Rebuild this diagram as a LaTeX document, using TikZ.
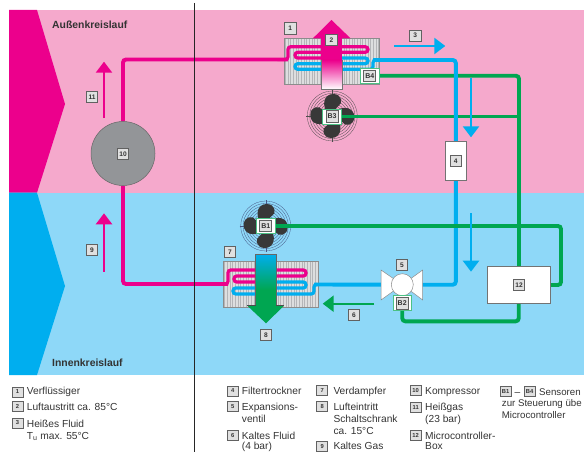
\documentclass[tikz,border=0pt]{standalone}
\usepackage{fontspec}
\setmainfont{Liberation Sans}
\usetikzlibrary{arrows.meta}
\definecolor{pinkbg}{HTML}{F5A9CC}
\definecolor{bluebg}{HTML}{8ED8F8}
\definecolor{mag}{HTML}{EC008C}
\definecolor{cyn}{HTML}{00AEEF}
\definecolor{grn}{HTML}{00A651}
\definecolor{compgray}{HTML}{939598}
\definecolor{fin}{HTML}{B4B5B8}
\definecolor{txt}{HTML}{333333}
\pgfdeclarelayer{bg}
\pgfdeclarelayer{pipes}
\pgfsetlayers{bg,pipes,main}
\tikzset{
  tag/.style={draw=black!62,fill=black!12,line width=.8pt,minimum width=11.5pt,minimum height=11.5pt,inner sep=0pt,
    font=\fontsize{6.6}{6.6}\selectfont\bfseries,text=black!80},
  sens/.style={draw=grn!70,fill=white,line width=.6pt,minimum width=18.5pt,minimum height=15pt,inner sep=0pt},
  senstag/.style={tag,minimum width=12pt,minimum height=11.5pt,font=\fontsize{7}{7}\selectfont\bfseries},
  ltag/.style={tag,minimum height=10pt,minimum width=11pt,font=\fontsize{5.8}{5.8}\selectfont\bfseries},
  leg/.style={anchor=base west,inner sep=0pt,font=\fontsize{10.2}{10.2}\selectfont,text=txt},
  legs/.style={leg,font=\fontsize{9.7}{9.7}\selectfont},
  head/.style={anchor=base west,inner sep=0pt,font=\fontsize{10.4}{10.4}\selectfont\bfseries,text=txt},
  wpipe/.style={line width=3.9pt,rounded corners=3pt},
  coil/.style={line width=3.2pt,rounded corners=2.7pt},
  flow/.style={line width=2.4pt,-{Triangle[width=16pt,length=11pt]}},
  box/.style={draw=black!55,fill=white,line width=.7pt,inner sep=0pt},
}
\newcommand{\fanat}[3]{% x y colour
  \begin{scope}[shift={(#1,#2)}]
    \foreach \r in {25,22.6,20.2,17.8,15.4,13,10.6,8.2,5.8,3.4}
      \draw[#3,line width=.3pt] (0,0) circle[radius=\r];
    \draw[#3,line width=.3pt] (-26,0) -- (26,0) (0,-26) -- (0,26);
    \foreach \a in {0,90,180,270}
      \fill[black!78,rotate=\a] (-4,-2) .. controls (-11,-10) and (-9,-22) .. (1,-22)
        .. controls (10,-22) and (11,-12) .. (6,-10) .. controls (3,-8) and (3,-4) .. (2,-2) -- cycle;
  \end{scope}}
\newcommand{\finblock}[4]{% x1 y1 x2 y2
  \fill[fin] (#1,#2) rectangle (#3,#4);
  \pgfmathsetmacro{\nxt}{#1+1.6}
  \foreach \x in {#1,\nxt,...,#3}
    \draw[white!55!fin,line width=.6pt] (\x,#2) -- (\x,#4);
  \draw[black!45,line width=.5pt] (#1,#2) rectangle (#3,#4);}
\begin{document}
\begin{tikzpicture}[x=1pt,y=-1pt]
\useasboundingbox (0,0) rectangle (584,452);
\begin{pgfonlayer}{bg}
  \fill[pinkbg] (9,10) rectangle (584,192.7);
  \fill[bluebg] (9,192.7) rectangle (584,375);
  \fill[mag] (9,10) -- (37,10) -- (65,104) -- (37,192.7) -- (9,192.7) -- cycle;
  \fill[cyn] (9,192.7) -- (37,192.7) -- (65,286) -- (37,375) -- (9,375) -- cycle;
  \finblock{284.5}{38.5}{379}{84.3}
  \finblock{223.3}{261}{318.3}{307.3}
  \fanat{332.3}{116}{black!70}
  \fanat{265.7}{226}{black!65!cyan!60!blue}
\end{pgfonlayer}

\draw[black!85,line width=.8pt] (194.5,3) -- (194.5,452);

% equipment nodes
\node[circle,draw=black!60,fill=compgray,line width=.5pt,minimum size=64pt,inner sep=0pt] (comp) at (123,153.5) {};
\node[box,minimum width=21.7pt,minimum height=38.7pt] (filter) at (455.8,160.6) {};
\node[box,minimum width=62.7pt,minimum height=36.6pt] (ctrl) at (518.7,285) {};
\fill[white,draw=black!45,line width=.5pt] (381,270) -- (402.3,284.7) -- (422.7,270) -- (422.7,300) -- (402.3,284.7) -- (381,300) -- cycle;
\node[circle,draw=black!45,fill=white,line width=.5pt,minimum size=22pt,inner sep=0pt] (valve) at (402.3,284.7) {};

% sensors
\node[sens] (b4) at (369.8,75.8) {};
\node[sens] (b3) at (332,116.5) {};
\node[sens] (b1) at (265.8,226) {};
\node[sens] (b2) at (402.2,303.2) {};
\node[senstag] at (b4) {B4};
\node[senstag] at (b3) {B3};
\node[senstag] at (b1) {B1};
\node[senstag] at (b2) {B2};

% pipes
\coordinate (gv) at (519,75.8);
\coordinate (gr) at (561,226);
\coordinate (cin) at (288,59.5);
\coordinate (ein) at (228,284);
\coordinate (cout) at (373,60);
\coordinate (eout) at (314,284.5);
\begin{pgfonlayer}{pipes}
  \draw[grn,wpipe] (b4.east) -- (gv) -- (gv |- ctrl.north);
  \draw[grn,wpipe] (b3.east) -- (gv |- b3.east);
  \draw[mag,wpipe] (comp.north) -- (123,59.5) -- (cin);
  \draw[mag,coil] (286,59.5) -- (288,59.5) -- (288,46.7) -- (368,46.7) -- (368,52.3) -- (295,52.3) -- (295,58) -- (330,58);
  \draw[cyn,coil] (330,58) -- (368,58) -- (368,63.7) -- (295,63.7) -- (295,69.3) -- (373,69.3) -- (373,60) -- (376,60);
  \draw[cyn,wpipe] (cout) -- (455.8,60) -- (filter.north);
  \draw[mag,wpipe] (comp.south) -- (123,284) -- (ein);
  \draw[mag,coil] (226,284) -- (228,284) -- (228,270) -- (306,270) -- (306,276) -- (234,276) -- (234,282) -- (266,282);
  \draw[cyn,coil] (266,282) -- (306,282) -- (306,288) -- (233,288) -- (233,294) -- (314,294) -- (314,284.5) -- (317,284.5);
  \draw[cyn,wpipe] (eout) -- (valve.west);
  \draw[cyn,wpipe] (filter.south) -- (455.8,284.7) -- (valve.east);
  \draw[grn,wpipe] (b1.east) -- (gr) -- (gr |- ctrl.east) -- (ctrl.east);
  \draw[grn,wpipe] (ctrl.south) -- (518.7,321.3) -- (402.3,321.3) -- (b2.south);
\end{pgfonlayer}

% air arrows
\fill[mag] (331.5,20) -- (350.7,38.5) -- (312.7,38.5) -- cycle;
\fill[mag] (321.3,38) rectangle (342,60);
\shade[top color=mag,bottom color=white] (321.3,60) rectangle (342,89.3);
\draw[black!55,line width=.5pt] (321.3,60) -- (321.3,89.3) -- (342,89.3) -- (342,60);
\shade[top color=cyn,bottom color=grn] (255.7,254) rectangle (276.3,290);
\fill[grn] (255.7,290) rectangle (276.3,306);
\fill[grn] (247.3,305.7) -- (284,305.7) -- (266,323.3) -- cycle;
\draw[black!60,line width=.5pt] (255.7,305.7) -- (255.7,254) -- (276.3,254) -- (276.3,305.7);
\draw[black!70,line width=.5pt] (247.3,305.7) -- (255.7,305.7) (276.3,305.7) -- (284,305.7);

% flow arrows
\coordinate (f3a) at (394,46); \coordinate (f3b) at (445.3,46);
\coordinate (f3c) at (471,78); \coordinate (f3d) at (471,137.3);
\coordinate (f3e) at (471,213.3); \coordinate (f3f) at (471,271.7);
\coordinate (f6a) at (374,303.7); \coordinate (f6b) at (322.7,303.7);
\coordinate (f11a) at (104,118); \coordinate (f11b) at (104,61.7);
\coordinate (f9a) at (104,271.7); \coordinate (f9b) at (104,213.3);
\draw[flow,cyn] (f3a) -- (f3b);
\draw[flow,cyn] (f3c) -- (f3d);
\draw[flow,cyn] (f3e) -- (f3f);
\draw[flow,grn] (f6a) -- (f6b);
\draw[flow,mag] (f11a) -- (f11b);
\draw[flow,mag] (f9a) -- (f9b);

% tags in the diagram
\node[tag] (t1) at (290.3,28.3) {1};
\node[tag] (t2) at (331.5,40) {2};
\node[tag] (t3) at (415.3,35.7) {3};
\node[tag] (t4) at (455.8,161) {4};
\node[tag] (t5) at (402,265) {5};
\node[tag] (t6) at (354,315) {6};
\node[tag] (t7) at (230,252) {7};
\node[tag] (t8) at (266,335) {8};
\node[tag] (t9) at (92,250) {9};
\node[tag] (t10) at (123,154) {10};
\node[tag] (t11) at (92,97) {11};
\node[tag] (t12) at (519,284.7) {12};

% headings
\node[head] (hout) at (52,28.5) {Außenkreislauf};
\node[head] (hin) at (52,366.5) {Innenkreislauf};

% legend
\node[ltag] (l1) at (17.5,392) {1};
\node[leg] (x1) at (26.7,394.5) {Verflüssiger};
\node[ltag] (l2) at (17.5,406.7) {2};
\node[leg] (x2) at (26.7,410) {Luftaustritt ca. 85°C};
\node[ltag] (l3) at (17.5,423) {3};
\node[leg] (x3a) at (26.7,427) {Heißes Fluid};
\node[leg] (x3b) at (26.7,439) {T\textsubscript{u} max. 55°C};

\node[ltag] (l4) at (232.7,391) {4};
\node[leg] (x4) at (241.7,394.5) {Filtertrockner};
\node[ltag] (l5) at (232.7,406.7) {5};
\node[leg] (x5a) at (241.7,410) {Expansions-};
\node[leg] (x5b) at (241.7,422.3) {ventil};
\node[ltag] (l6) at (232.7,435.7) {6};
\node[leg] (x6a) at (241.7,439) {Kaltes Fluid};
\node[leg] (x6b) at (241.7,449.5) {(4 bar)};

\node[ltag] (l7) at (322.3,390.7) {7};
\node[leg] (x7) at (333.3,394) {Verdampfer};
\node[ltag] (l8) at (322.3,406.7) {8};
\node[leg] (x8a) at (333.3,410.5) {Lufteintritt};
\node[leg] (x8b) at (333.3,422.3) {Schaltschrank};
\node[leg] (x8c) at (333.3,434) {ca. 15°C};
\node[ltag] (l9) at (322.3,446) {9};
\node[leg] (x9) at (333.3,449.5) {Kaltes Gas};

\node[ltag] (l10) at (415.7,390.7) {10};
\node[leg] (x10) at (425,394) {Kompressor};
\node[ltag] (l11) at (415.7,407.3) {11};
\node[leg] (x11a) at (425,410.5) {Heißgas};
\node[leg] (x11b) at (425,422.6) {(23 bar)};
\node[ltag] (l12) at (415.7,435.7) {12};
\node[leg] (x12a) at (425,439) {Microcontroller-};
\node[leg] (x12b) at (425,449.5) {Box};

\node[ltag] (lb1) at (505.7,391.7) {B1};
\node[leg] (xd) at (514.5,395) {–};
\node[ltag] (lb4) at (529.7,391.7) {B4};
\node[legs] (xs) at (539,395) {Sensoren};
\node[legs] (xs2) at (501.7,406.3) {zur Steuerung übe};
\node[legs] (xs3) at (501.7,418.3) {Microcontroller};
\end{tikzpicture}
\end{document}
